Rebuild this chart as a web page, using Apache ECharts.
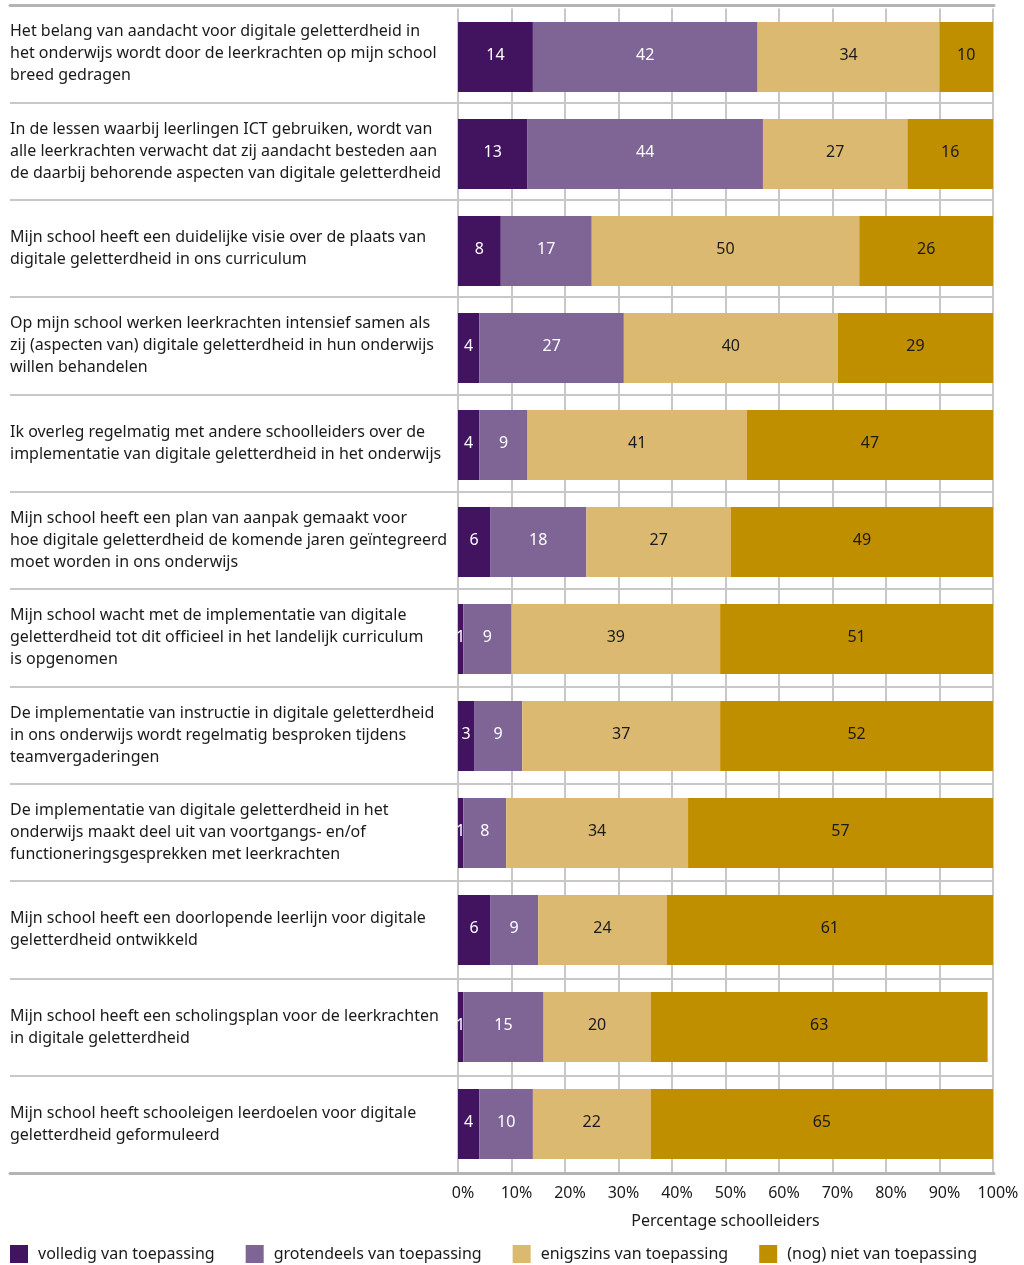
<!DOCTYPE html>
<html>
<head>
<meta charset="utf-8">
<script src="https://cdn.jsdelivr.net/npm/echarts@6/dist/echarts.min.js"></script>
<style>
  html, body { margin: 0; padding: 0; background: #ffffff; }
  #chart { width: 1024px; height: 1265px; }
</style>
</head>
<body>
<div id="chart"></div>
<script>
// Statements (top to bottom)
const statements = [
  'Het belang van aandacht voor digitale geletterdheid in\nhet onderwijs wordt door de leerkrachten op mijn school\nbreed gedragen',
  'In de lessen waarbij leerlingen ICT gebruiken, wordt van\nalle leerkrachten verwacht dat zij aandacht besteden aan\nde daarbij behorende aspecten van digitale geletterdheid',
  'Mijn school heeft een duidelijke visie over de plaats van\ndigitale geletterdheid in ons curriculum',
  'Op mijn school werken leerkrachten intensief samen als\nzij (aspecten van) digitale geletterdheid in hun onderwijs\nwillen behandelen',
  'Ik overleg regelmatig met andere schoolleiders over de\nimplementatie van digitale geletterdheid in het onderwijs',
  'Mijn school heeft een plan van aanpak gemaakt voor\nhoe digitale geletterdheid de komende jaren geïntegreerd\nmoet worden in ons onderwijs',
  'Mijn school wacht met de implementatie van digitale\ngeletterdheid tot dit officieel in het landelijk curriculum\nis opgenomen',
  'De implementatie van instructie in digitale geletterdheid\nin ons onderwijs wordt regelmatig besproken tijdens\nteamvergaderingen',
  'De implementatie van digitale geletterdheid in het\nonderwijs maakt deel uit van voortgangs- en/of\nfunctioneringsgesprekken met leerkrachten',
  'Mijn school heeft een doorlopende leerlijn voor digitale\ngeletterdheid ontwikkeld',
  'Mijn school heeft een scholingsplan voor de leerkrachten\nin digitale geletterdheid',
  'Mijn school heeft schooleigen leerdoelen voor digitale\ngeletterdheid geformuleerd'
];

// Answer categories
const answerNames = [
  'volledig van toepassing',
  'grotendeels van toepassing',
  'enigszins van toepassing',
  '(nog) niet van toepassing'
];

// Percentages per answer category
const volledig    = [14, 13,  8,  4,  4,  6,  1,  3,  1,  6,  1,  4];
const grotendeels = [42, 44, 17, 27,  9, 18,  9,  9,  8,  9, 15, 10];
const enigszins   = [34, 27, 50, 40, 41, 27, 39, 37, 34, 24, 20, 22];
const nietVan     = [10, 16, 26, 29, 47, 49, 51, 52, 57, 61, 63, 65];

const axisTitle = 'Percentage schoolleiders';

const colors = ['#42145f', '#7f6496', '#dcb970', '#c08f00'];
const labelColors = ['#ffffff', '#ffffff', '#1a1a1a', '#1a1a1a'];
const FONT = 'Noto Sans';

const chart = echarts.init(document.getElementById('chart'), null, { renderer: 'canvas' });

function barSeries(i, values) {
  return {
    name: answerNames[i],
    type: 'bar',
    stack: 'total',
    xAxisIndex: 2,
    yAxisIndex: 1,
    barWidth: 70,
    clip: true,
    itemStyle: { color: colors[i] },
    label: {
      show: true,
      position: 'inside',
      offset: [0, -2],
      color: labelColors[i],
      fontFamily: FONT,
      fontSize: 16
    },
    emphasis: { disabled: true },
    data: values
  };
}

const option = {
  animation: false,
  backgroundColor: '#ffffff',
  textStyle: { fontFamily: FONT },
  color: colors,
  legend: {
    left: 10,
    top: 1244,
    padding: 0,
    icon: 'rect',
    itemWidth: 18,
    itemHeight: 18,
    itemGap: 31,
    textStyle: {
      fontFamily: FONT, fontSize: 16, lineHeight: 20, color: '#1a1a1a',
      padding: [0, 0, 0, 5]
    },
    data: answerNames
  },
  grid: [
    // row separators across the full width
    { left: 10, right: 30, top: 5, height: 1168 },
    // bars
    { left: 458, right: 31, top: 8.5, height: 1164 }
  ],
  xAxis: [
    {
      gridIndex: 0, type: 'value', min: 0, max: 1, position: 'top',
      axisLine: { show: true, lineStyle: { color: '#b4b4b4', width: 3 } },
      axisTick: { show: false }, axisLabel: { show: false }, splitLine: { show: false }
    },
    {
      gridIndex: 0, type: 'value', min: 0, max: 1, position: 'bottom',
      axisLine: { show: true, lineStyle: { color: '#b4b4b4', width: 3 } },
      axisTick: { show: false }, axisLabel: { show: false }, splitLine: { show: false }
    },
    {
      gridIndex: 1, type: 'value', min: 0, max: 100, interval: 10,
      axisLine: { show: false }, axisTick: { show: false },
      splitLine: { show: true, lineStyle: { color: '#c8c8c8', width: 2 } },
      axisLabel: {
        formatter: '{value}%',
        margin: 13,
        padding: [0, 0, 0, 10],
        fontFamily: FONT, fontSize: 16, color: '#1a1a1a'
      },
      name: axisTitle,
      nameLocation: 'middle',
      nameGap: 41,
      nameTextStyle: { fontFamily: FONT, fontSize: 16, color: '#1a1a1a' }
    }
  ],
  yAxis: [
    {
      gridIndex: 0, type: 'category', inverse: true, data: statements,
      axisLine: { show: false }, axisTick: { show: false },
      splitLine: { show: true, lineStyle: { color: '#c8c8c8', width: 2 } },
      axisLabel: {
        inside: true, margin: 0, align: 'left',
        fontFamily: FONT, fontSize: 16, lineHeight: 22, color: '#1a1a1a'
      }
    },
    {
      gridIndex: 1, type: 'category', inverse: true, data: statements,
      axisLine: { show: false }, axisTick: { show: false },
      axisLabel: { show: false }, splitLine: { show: false }
    }
  ],
  series: [
    barSeries(0, volledig),
    barSeries(1, grotendeels),
    barSeries(2, enigszins),
    barSeries(3, nietVan)
  ]
};

chart.setOption(option);
</script>
</body>
</html>
